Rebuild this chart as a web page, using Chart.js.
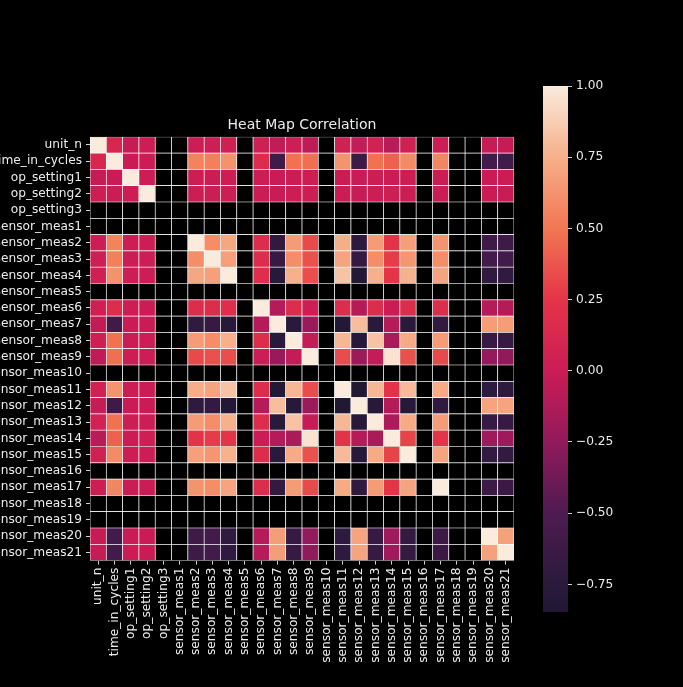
<!DOCTYPE html>
<html>
<head>
<meta charset="utf-8">
<script src="https://cdn.jsdelivr.net/npm/chart.js@4.4.1/dist/chart.umd.min.js"></script>
<style>
  html, body { margin: 0; padding: 0; background: #000; width: 683px; height: 687px; overflow: hidden; }
  #heat { position: absolute; left: 0; top: 0; }
  #cbar { position: absolute; left: 530px; top: 0; }
</style>
</head>
<body>
<canvas id="heat" width="530" height="687"></canvas>
<canvas id="cbar" width="153" height="687"></canvas>
<script>
// Variables of the engine run table (rows and columns of the correlation matrix)
const variables = [
  'unit_n', 'time_in_cycles', 'op_setting1', 'op_setting2', 'op_setting3',
  'sensor_meas1', 'sensor_meas2', 'sensor_meas3', 'sensor_meas4', 'sensor_meas5',
  'sensor_meas6', 'sensor_meas7', 'sensor_meas8', 'sensor_meas9', 'sensor_meas10',
  'sensor_meas11', 'sensor_meas12', 'sensor_meas13', 'sensor_meas14', 'sensor_meas15',
  'sensor_meas16', 'sensor_meas17', 'sensor_meas18', 'sensor_meas19', 'sensor_meas20',
  'sensor_meas21'
];

// Pearson correlation; constant columns have no defined correlation (null)
const N = null;
const corr = [
  [1, 0.12, -0.02, 0.01, N, N, 0.01, 0.02, 0.04, N, 0.04, -0.04, 0.03, -0.05, N, 0.05, -0.03, 0.06, -0.08, 0.05, N, 0.01, N, N, -0.02, -0.02],
  [0.12, 1, -0.01, 0.00, N, N, 0.55, 0.54, 0.62, N, 0.18, -0.60, 0.48, 0.47, N, 0.63, -0.61, 0.48, 0.42, 0.59, N, 0.57, N, N, -0.58, -0.59],
  [-0.02, -0.01, 1, 0.01, N, N, 0.01, 0.00, 0.01, N, 0.01, -0.01, 0.00, 0.01, N, 0.00, -0.01, 0.01, 0.00, 0.01, N, 0.00, N, N, -0.01, 0.00],
  [0.01, 0.00, 0.01, 1, N, N, 0.01, 0.01, 0.01, N, 0.00, -0.01, 0.01, 0.01, N, 0.00, -0.01, 0.01, 0.02, 0.01, N, 0.00, N, N, -0.01, -0.01],
  [N, N, N, N, N, N, N, N, N, N, N, N, N, N, N, N, N, N, N, N, N, N, N, N, N, N],
  [N, N, N, N, N, N, N, N, N, N, N, N, N, N, N, N, N, N, N, N, N, N, N, N, N, N],
  [0.01, 0.55, 0.01, 0.01, N, N, 1, 0.60, 0.71, N, 0.18, -0.70, 0.66, 0.33, N, 0.74, -0.72, 0.66, 0.24, 0.68, N, 0.63, N, N, -0.61, -0.61],
  [0.02, 0.54, 0.00, 0.01, N, N, 0.60, 1, 0.68, N, 0.18, -0.66, 0.60, 0.36, N, 0.70, -0.68, 0.60, 0.28, 0.64, N, 0.60, N, N, -0.58, -0.59],
  [0.04, 0.62, 0.01, 0.01, N, N, 0.71, 0.68, 1, N, 0.19, -0.79, 0.75, 0.35, N, 0.83, -0.82, 0.75, 0.25, 0.76, N, 0.70, N, N, -0.70, -0.70],
  [N, N, N, N, N, N, N, N, N, N, N, N, N, N, N, N, N, N, N, N, N, N, N, N, N, N],
  [0.04, 0.18, 0.01, 0.00, N, N, 0.18, 0.18, 0.19, N, 1, -0.10, 0.18, 0.01, N, 0.18, -0.10, 0.18, 0.00, 0.18, N, 0.18, N, N, -0.10, -0.10],
  [-0.04, -0.60, -0.01, -0.01, N, N, -0.70, -0.66, -0.79, N, -0.10, 1, -0.77, -0.22, N, -0.82, 0.81, -0.77, -0.10, -0.76, N, -0.69, N, N, 0.67, 0.67],
  [0.03, 0.48, 0.00, 0.01, N, N, 0.66, 0.60, 0.75, N, 0.18, -0.77, 1, -0.03, N, 0.78, -0.79, 0.83, -0.14, 0.73, N, 0.66, N, N, -0.66, -0.66],
  [-0.05, 0.47, 0.01, 0.01, N, N, 0.33, 0.36, 0.35, N, 0.01, -0.22, -0.03, 1, N, 0.34, -0.21, -0.03, 0.96, 0.36, N, 0.33, N, N, -0.24, -0.25],
  [N, N, N, N, N, N, N, N, N, N, N, N, N, N, N, N, N, N, N, N, N, N, N, N, N, N],
  [0.05, 0.63, 0.00, 0.00, N, N, 0.74, 0.70, 0.83, N, 0.18, -0.82, 0.78, 0.34, N, 1, -0.847, 0.78, 0.24, 0.79, N, 0.73, N, N, -0.72, -0.73],
  [-0.03, -0.61, -0.01, -0.01, N, N, -0.72, -0.68, -0.82, N, -0.10, 0.81, -0.79, -0.21, N, -0.847, 1, -0.79, -0.10, -0.78, N, -0.70, N, N, 0.70, 0.70],
  [0.06, 0.48, 0.01, 0.01, N, N, 0.66, 0.60, 0.75, N, 0.18, -0.77, 0.83, -0.03, N, 0.78, -0.79, 1, -0.14, 0.73, N, 0.66, N, N, -0.66, -0.66],
  [-0.08, 0.42, 0.00, 0.02, N, N, 0.24, 0.28, 0.25, N, 0.00, -0.10, -0.14, 0.96, N, 0.24, -0.10, -0.14, 1, 0.31, N, 0.25, N, N, -0.19, -0.19],
  [0.05, 0.59, 0.01, 0.01, N, N, 0.68, 0.64, 0.76, N, 0.18, -0.76, 0.73, 0.36, N, 0.79, -0.78, 0.73, 0.31, 1, N, 0.70, N, N, -0.69, -0.69],
  [N, N, N, N, N, N, N, N, N, N, N, N, N, N, N, N, N, N, N, N, N, N, N, N, N, N],
  [0.01, 0.57, 0.00, 0.00, N, N, 0.63, 0.60, 0.70, N, 0.18, -0.69, 0.66, 0.33, N, 0.73, -0.70, 0.66, 0.25, 0.70, N, 1, N, N, -0.63, -0.64],
  [N, N, N, N, N, N, N, N, N, N, N, N, N, N, N, N, N, N, N, N, N, N, N, N, N, N],
  [N, N, N, N, N, N, N, N, N, N, N, N, N, N, N, N, N, N, N, N, N, N, N, N, N, N],
  [-0.02, -0.58, -0.01, -0.01, N, N, -0.61, -0.58, -0.70, N, -0.10, 0.67, -0.66, -0.24, N, -0.72, 0.70, -0.66, -0.19, -0.69, N, -0.63, N, N, 1, 0.69],
  [-0.02, -0.59, 0.00, -0.01, N, N, -0.61, -0.59, -0.70, N, -0.10, 0.67, -0.66, -0.25, N, -0.73, 0.70, -0.66, -0.19, -0.69, N, -0.64, N, N, 0.69, 1]
];

// Colour bar tick values
const colorbarTicks = [1.0, 0.75, 0.5, 0.25, 0.0, -0.25, -0.5, -0.75];

// Colour range spans the data
const finite = corr.flat().filter(v => v !== null);
const vmin = Math.min(...finite);
const vmax = Math.max(...finite);

// Sequential dark-purple -> crimson -> peach -> cream palette: [position, r, g, b]
const palette = [
  [0.000, 33, 24, 52],
  [0.053, 42, 26, 60],
  [0.188, 78, 27, 80],
  [0.323, 145, 26, 91],
  [0.459, 203, 28, 86],
  [0.594, 228, 52, 72],
  [0.729, 242, 118, 82],
  [0.865, 246, 176, 138],
  [1.000, 250, 235, 221]
];

function paletteAt(t) {
  t = Math.max(0, Math.min(1, t));
  for (let i = 1; i < palette.length; i++) {
    const a = palette[i - 1], b = palette[i];
    if (t <= b[0]) {
      const f = (t - a[0]) / (b[0] - a[0]);
      const c = [1, 2, 3].map(k => Math.round(a[k] + (b[k] - a[k]) * f));
      return `rgb(${c[0]},${c[1]},${c[2]})`;
    }
  }
  const l = palette[palette.length - 1];
  return `rgb(${l[1]},${l[2]},${l[3]})`;
}

function colorFor(v) {
  if (v === null || v === undefined) return '#000000';
  return paletteAt((v - vmin) / (vmax - vmin));
}

// One floating bar per matrix cell, spanning its row band
const cells = [];
corr.forEach((row, r) => {
  row.forEach((v, c) => {
    cells.push({ x: variables[c], y: [r - 0.5, r + 0.5], v });
  });
});

const textColor = '#ececec';
const tickFont = { family: 'DejaVu Sans', size: 12.2 };

new Chart(document.getElementById('heat'), {
  type: 'bar',
  data: {
    labels: variables,
    datasets: [{
      data: cells,
      backgroundColor: ctx => colorFor(ctx.raw ? ctx.raw.v : null),
      borderColor: '#ffffff',
      borderWidth: 0.7,
      borderSkipped: false,
      barPercentage: 1,
      categoryPercentage: 1
    }]
  },
  options: {
    responsive: false,
    animation: false,
    events: [],
    layout: { autoPadding: false, padding: { left: 0, right: 16, top: 0, bottom: 16.4 } },
    plugins: {
      legend: { display: false },
      tooltip: { enabled: false },
      title: {
        display: true,
        fullSize: false,
        text: 'Heat Map Correlation',
        color: textColor,
        font: { family: 'DejaVu Sans', size: 14, weight: 'normal' },
        padding: { top: 117, bottom: 3 }
      }
    },
    scales: {
      x: {
        type: 'category',
        offset: true,
        grid: { offset: false, drawOnChartArea: false, drawTicks: true, tickLength: 4, tickColor: '#d0d0d0', tickWidth: 1 },
        border: { display: false },
        ticks: { autoSkip: false, minRotation: 90, maxRotation: 90, color: textColor, font: tickFont, padding: 3 },
        afterFit(scale) { scale.height = 110; }
      },
      y: {
        type: 'linear',
        reverse: true,
        min: -0.5,
        max: 25.5,
        afterBuildTicks(scale) { scale.ticks = variables.map((_, i) => ({ value: i })); },
        grid: { drawOnChartArea: false, drawTicks: true, tickLength: 4, tickColor: '#d0d0d0', tickWidth: 1 },
        border: { display: false },
        ticks: { autoSkip: false, color: textColor, font: tickFont, padding: 4, callback: v => variables[v] },
        afterFit(scale) { scale.width = 90; }
      }
    }
  }
});

// Colour bar: one floating bar from vmin to vmax filled with the palette
function fmtTick(v) {
  const s = Math.abs(v).toFixed(2);
  return v < 0 ? '\u2212' + s : s;
}

function barGradient(ctx) {
  const chart = ctx.chart;
  const y = chart.scales.y;
  if (!y) return '#000';
  const y0 = y.getPixelForValue(vmin);
  const y1 = y.getPixelForValue(vmax);
  if (!isFinite(y0) || !isFinite(y1)) return '#000';
  const g = chart.ctx.createLinearGradient(0, y0, 0, y1);
  palette.forEach(p => g.addColorStop(p[0], `rgb(${p[1]},${p[2]},${p[3]})`));
  return g;
}

const cbarChart = new Chart(document.getElementById('cbar'), {
  type: 'bar',
  data: {
    labels: [''],
    datasets: [{
      data: [[vmin, vmax]],
      backgroundColor: barGradient,
      borderWidth: 0,
      barPercentage: 1,
      categoryPercentage: 1
    }]
  },
  options: {
    responsive: false,
    animation: false,
    events: [],
    layout: { autoPadding: false, padding: { left: 13, right: 55, top: 86, bottom: 75 } },
    plugins: { legend: { display: false }, tooltip: { enabled: false } },
    scales: {
      x: { display: false, offset: true },
      y: {
        position: 'right',
        min: vmin,
        max: vmax,
        afterBuildTicks(scale) { scale.ticks = colorbarTicks.map(v => ({ value: v })); },
        grid: { drawOnChartArea: false, drawTicks: true, tickLength: 4, tickColor: '#d0d0d0', tickWidth: 1 },
        border: { display: false },
        ticks: { color: textColor, font: tickFont, padding: 4, callback: v => fmtTick(v) },
        afterFit(scale) { scale.width = 60; }
      }
    }
  }
});
cbarChart.update();
</script>
</body>
</html>
